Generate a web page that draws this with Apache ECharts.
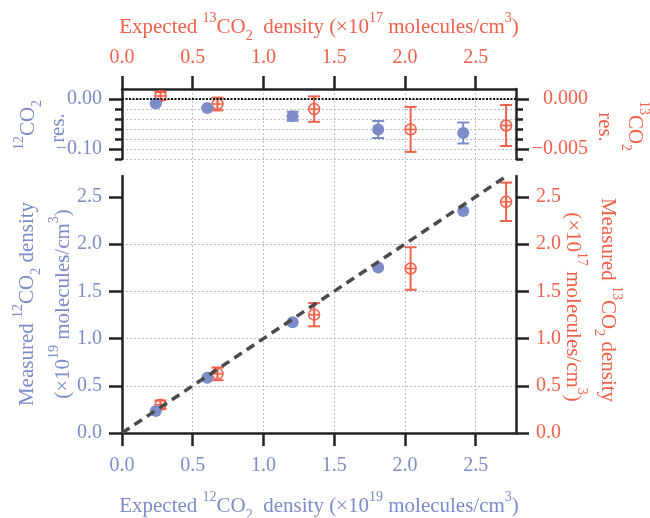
<!DOCTYPE html>
<html>
<head>
  <meta charset="UTF-8">
  <title>CO2 density check</title>
  <script src="https://cdn.jsdelivr.net/npm/echarts@6/dist/echarts.min.js"></script>
  <style>html, body { margin: 0; padding: 0; background: #fff; }</style>
</head>
<body>
  <div id="main" style="width: 650px; height: 518px"></div>
  <script>
    // 12CO2: expected (x1e19), measured, residuals
    const x12 = [0.239, 0.603, 1.206, 1.811, 2.412];
    const meas12 = [0.232, 0.584, 1.171, 1.751, 2.349];
    const res12 = [-0.009, -0.018, -0.0345, -0.061, -0.068];
    const res12Err = [0.002, 0.002, 0.009, 0.017, 0.021];

    // 13CO2: expected (x1e17), measured, residuals
    const x13 = [0.272, 0.675, 1.358, 2.040, 2.715];
    const xErr13 = [0.035, 0.035, 0.035, 0.035, 0.035];
    const meas13 = [0.299, 0.626, 1.252, 1.741, 2.447];
    const meas13Err = [0.045, 0.067, 0.123, 0.225, 0.203];
    const res13 = [0.0003, -0.0005, -0.00101, -0.00304, -0.00265];
    const res13Err = [0.0004, 0.00064, 0.00127, 0.00225, 0.00205];

    // 1:1 reference line
    const fitX = [0, 2.72];

    // tick values
    const xTicks = [0, 0.5, 1, 1.5, 2, 2.5];
    const yTicks = [0, 0.5, 1, 1.5, 2, 2.5];
    const res12Ticks = [0, -0.1];
    const res12Minor = [-0.02, -0.04, -0.06, -0.08, -0.12];
    const res13Ticks = [0, -0.005];
    const res13Minor = [-0.001, -0.002, -0.003, -0.004, -0.006];

    const XMAX = 2.785, YMAX = 2.72;
    const BLUE = '#7b8cc9', RED = '#f0604a', INK = '#222', GRIDC = '#bdbdbd';
    const FONT = 'Liberation Serif';

    const fmtMinus = d => v => (v < 0 ? '\u2212' : '') + Math.abs(v).toFixed(d);
    const inkLine = { color: INK, width: 2.5 };
    const dotted = { color: GRIDC, width: 1, type: [2, 2] };

    function xAx(grid, pos, color, margin) {
      return {
        type: 'value', gridIndex: grid, position: pos, min: 0, max: XMAX,
        axisLine: { show: true, onZero: false, lineStyle: inkLine },
        axisTick: { show: true, length: 13, customValues: xTicks, lineStyle: inkLine },
        axisLabel: { customValues: xTicks, margin: margin, color: color, fontFamily: FONT, fontSize: 20,
          formatter: v => v.toFixed(1) },
        splitLine: { show: false }
      };
    }

    function yAx(grid, pos, min, max, o) {
      return Object.assign({
        type: 'value', gridIndex: grid, position: pos, min: min, max: max,
        axisLine: { show: false, onZero: false },
        axisTick: { show: false },
        axisLabel: { show: false },
        splitLine: { show: false }
      }, o);
    }

    // error bar (+ open circle for 13CO2)
    function errItem(color, cap, circle) {
      return function (params, api) {
        const x = api.value(0), y = api.value(1), e = api.value(2), xe = api.value(3);
        const c = api.coord([x, y]);
        const top = api.coord([x, y + e]), bot = api.coord([x, y - e]);
        const st = { stroke: color, lineWidth: 2 };
        const kids = [
          { type: 'line', shape: { x1: c[0], y1: top[1], x2: c[0], y2: bot[1] }, style: st },
          { type: 'line', shape: { x1: c[0] - cap, y1: top[1], x2: c[0] + cap, y2: top[1] }, style: st },
          { type: 'line', shape: { x1: c[0] - cap, y1: bot[1], x2: c[0] + cap, y2: bot[1] }, style: st }
        ];
        if (circle) {
          const l = api.coord([x - xe, y]), r = api.coord([x + xe, y]);
          kids.push({ type: 'line', shape: { x1: l[0], y1: c[1], x2: r[0], y2: c[1] }, style: { stroke: color, lineWidth: 1.5 } });
          kids.push({ type: 'circle', shape: { cx: c[0], cy: c[1], r: 5.5 },
            style: { stroke: color, lineWidth: 1.5, fill: 'rgba(240,96,74,0.12)' } });
        }
        return { type: 'group', children: kids };
      };
    }

    // rich text with super/subscripts
    const rich = c => ({
      t: { fontFamily: FONT, fontSize: 21, fill: c, lineHeight: 32 },
      sp: { fontFamily: FONT, fontSize: 14, fill: c, lineHeight: 14, verticalAlign: 'top' },
      sb: { fontFamily: FONT, fontSize: 14, fill: c, lineHeight: 14, verticalAlign: 'bottom' }
    });
    function title(text, x, y, color, rot) {
      return { type: 'text', x: x, y: y, rotation: rot || 0,
        style: { text: text, rich: rich(color), align: 'center', verticalAlign: 'middle',
          fill: color, fontFamily: FONT, fontSize: 21 } };
    }
    const UP = Math.PI / 2, DOWN = -Math.PI / 2;

    const chart = echarts.init(document.getElementById('main'));
    const option = {
      animation: false,
      backgroundColor: '#fff',
      grid: [
        { left: 122, top: 89, width: 394, height: 70 },
        { left: 122, top: 176, width: 394, height: 257 },
        { left: 122, top: 89, width: 394, height: 344 }
      ],
      xAxis: [
        xAx(0, 'top', RED, 21),
        xAx(1, 'bottom', BLUE, 23),
        { type: 'value', gridIndex: 2, min: 0, max: XMAX, interval: 0.5,
          axisLine: { show: false, onZero: false }, axisTick: { show: false }, axisLabel: { show: false },
          splitLine: { show: true, showMinLine: false, showMaxLine: false, lineStyle: dotted } }
      ],
      yAxis: [
        yAx(0, 'left', -0.12, 0.02, { interval: 0.02,
          splitLine: { show: true, showMaxLine: false, lineStyle: dotted } }),
        yAx(0, 'left', -0.12, 0.02, {
          axisLine: { show: true, onZero: false, lineStyle: inkLine },
          axisTick: { show: true, length: 13, customValues: res12Ticks, lineStyle: inkLine },
          axisLabel: { show: true, customValues: res12Ticks, margin: 20, color: BLUE, fontFamily: FONT,
            fontSize: 20, formatter: fmtMinus(2) } }),
        yAx(0, 'left', -0.12, 0.02, {
          axisTick: { show: true, length: 7, customValues: res12Minor, lineStyle: inkLine } }),
        yAx(0, 'right', -0.006, 0.001, {
          axisLine: { show: true, onZero: false, lineStyle: inkLine },
          axisTick: { show: true, length: 13, customValues: res13Ticks, lineStyle: inkLine },
          axisLabel: { show: true, customValues: res13Ticks, margin: 72, align: 'right', color: RED,
            fontFamily: FONT, fontSize: 20, formatter: fmtMinus(3) } }),
        yAx(0, 'right', -0.006, 0.001, {
          axisTick: { show: true, length: 7, customValues: res13Minor, lineStyle: inkLine } }),
        yAx(1, 'left', 0, YMAX, { interval: 0.5,
          axisLine: { show: true, onZero: false, lineStyle: inkLine },
          axisTick: { show: true, length: 13, customValues: yTicks, lineStyle: inkLine },
          axisLabel: { show: true, customValues: yTicks, margin: 20, color: BLUE, fontFamily: FONT,
            fontSize: 20, formatter: v => v.toFixed(1) },
          splitLine: { show: true, showMinLine: false, showMaxLine: false, lineStyle: dotted } }),
        yAx(1, 'right', 0, YMAX, {
          axisLine: { show: true, onZero: false, lineStyle: inkLine },
          axisTick: { show: true, length: 13, customValues: yTicks, lineStyle: inkLine },
          axisLabel: { show: true, customValues: yTicks, margin: 20, color: RED, fontFamily: FONT,
            fontSize: 20, formatter: v => v.toFixed(1) } }),
        yAx(2, 'left', 0, 1, { show: false })
      ],
      series: [
        {
          type: 'custom', xAxisIndex: 0, yAxisIndex: 1, clip: false,
          renderItem: errItem(BLUE, 6, false),
          encode: { x: 0, y: 1 },
          data: x12.map((x, i) => [x, res12[i], res12Err[i], 0])
        },
        {
          type: 'scatter', xAxisIndex: 0, yAxisIndex: 1, symbolSize: 12,
          itemStyle: { color: BLUE, opacity: 1 },
          data: x12.map((x, i) => [x, res12[i]]),
          markLine: {
            silent: true, symbol: ['none', 'none'], label: { show: false },
            lineStyle: { color: '#111', width: 2, type: [2, 1.5] },
            data: [{ yAxis: 0 }]
          }
        },
        {
          type: 'custom', xAxisIndex: 0, yAxisIndex: 3, clip: false,
          renderItem: errItem(RED, 6, true),
          encode: { x: 0, y: 1 },
          data: x13.map((x, i) => [x, res13[i], res13Err[i], xErr13[i]])
        },
        {
          type: 'line', xAxisIndex: 1, yAxisIndex: 5, showSymbol: false, silent: true,
          lineStyle: { color: '#4a4a4a', width: 3.5, type: [9, 6] },
          data: fitX.map(v => [v, v])
        },
        {
          type: 'scatter', xAxisIndex: 1, yAxisIndex: 5, symbolSize: 12,
          itemStyle: { color: BLUE, opacity: 1 },
          data: x12.map((x, i) => [x, meas12[i]])
        },
        {
          type: 'custom', xAxisIndex: 1, yAxisIndex: 6, clip: false,
          renderItem: errItem(RED, 6, true),
          encode: { x: 0, y: 1 },
          data: x13.map((x, i) => [x, meas13[i], meas13Err[i], xErr13[i]])
        }
      ],
      graphic: [
        title('{t|Expected }{sp|13}{t|CO}{sb|2}{t|  density (×10}{sp|17}{t| molecules/cm}{sp|3}{t|)}', 319, 27, RED),
        title('{t|Expected }{sp|12}{t|CO}{sb|2}{t|  density (×10}{sp|19}{t| molecules/cm}{sp|3}{t|)}', 319, 506, BLUE),
        title('{sp|12}{t|CO}{sb|2}', 28, 125, BLUE, UP),
        title('{t|res.}', 58, 128, BLUE, UP),
        title('{sp|13}{t|CO}{sb|2}', 635, 126, RED, DOWN),
        title('{t|res.}', 605, 127, RED, DOWN),
        title('{t|Measured }{sp|12}{t|CO}{sb|2}{t| density}', 27, 304, BLUE, UP),
        title('{t|(×10}{sp|19}{t| molecules/cm}{sp|3}{t|)}', 63, 304, BLUE, UP),
        title('{t|Measured }{sp|13}{t|CO}{sb|2}{t| density}', 608, 300, RED, DOWN),
        title('{t|(×10}{sp|17}{t| molecules/cm}{sp|3}{t|)}', 573, 307, RED, DOWN)
      ]
    };
    chart.setOption(option);
  </script>
</body>
</html>
